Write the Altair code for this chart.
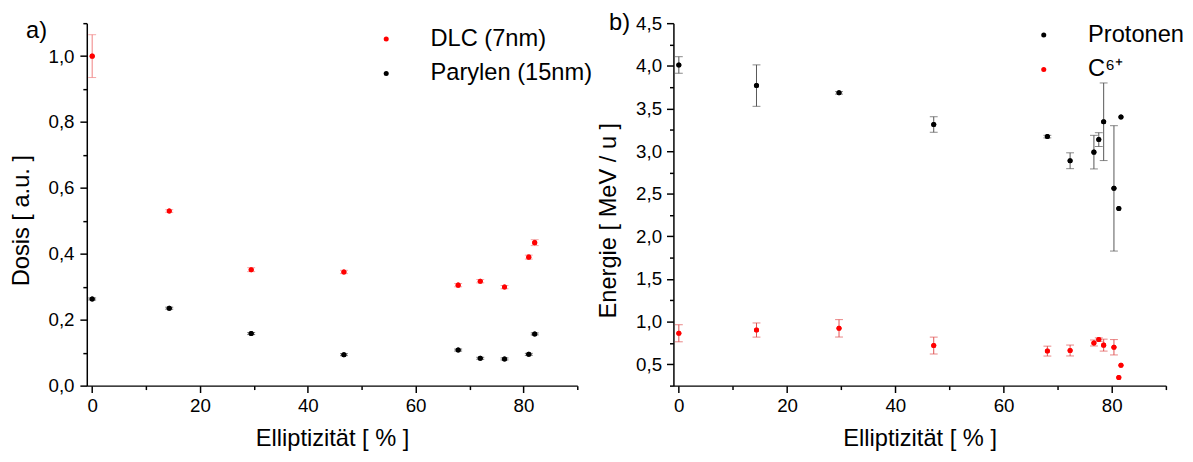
import altair as alt
import pandas as pd

FONT = "Liberation Sans"

# ---------- panel a) ----------
a_x = [0, 14.3, 29.5, 46.7, 67.9, 72.0, 76.5, 81.0, 82.1]
dlc_y = [1.0, 0.530, 0.352, 0.345, 0.305, 0.317, 0.299, 0.390, 0.434]
dlc_err = [0.065, 0.004, 0.006, 0.005, 0.005, 0.005, 0.005, 0.006, 0.009]
par_y = [0.263, 0.235, 0.158, 0.094, 0.108, 0.083, 0.081, 0.095, 0.157]
par_err = [0.003, 0.003, 0.003, 0.003, 0.003, 0.003, 0.003, 0.003, 0.003]
a_series = ["DLC (7nm)", "Parylen (15nm)"]

# ---------- panel b) ----------
b_x = [0, 14.35, 29.6, 47.1, 68.1, 72.3, 76.7, 77.6, 78.5, 80.4, 81.3, 81.7]
prot_y = [4.01, 3.768, 3.683, 3.312, 3.170, 2.887, 2.988, 3.135, 3.344, 2.563, 2.327, 3.401]
prot_err = [0.097, 0.243, 0.015, 0.091, 0.015, 0.093, 0.197, 0.081, 0.455, 0.735, 0.0, 0.0]
c_y = [0.864, 0.902, 0.922, 0.720, 0.655, 0.662, 0.750, 0.790, 0.725, 0.700, 0.346, 0.488]
c_err = [0.100, 0.083, 0.102, 0.099, 0.058, 0.064, 0.035, 0.020, 0.070, 0.090, 0.0, 0.0]
b_series = ["Protonen", "C\u2076\u207a"]

RED = "#ff0000"
BLACK = "#000000"


def frame(xs, ys, errs, name):
    return pd.DataFrame({"x": xs, "y": ys, "err": errs, "series": name})


dfa = pd.concat([frame(a_x, dlc_y, dlc_err, a_series[0]),
                 frame(a_x, par_y, par_err, a_series[1])], ignore_index=True)
dfb = pd.concat([frame(b_x, prot_y, prot_err, b_series[0]),
                 frame(b_x, c_y, c_err, b_series[1])], ignore_index=True)

x_ticks = list(range(0, 91, 10))
ya_ticks = [round(i * 0.1, 2) for i in range(0, 12)]
yb_ticks = [round(0.25 * i, 2) for i in range(1, 19)]


def cond(test, major, minor):
    return {"condition": {"test": test, "value": major}, "value": minor}


x_axis = alt.Axis(values=x_ticks, title="Elliptizität [ % ]",
                  labelExpr="datum.value % 20 === 0 ? datum.label : ''",
                  tickSize=cond("datum.value % 20 === 0", 7, 4),
                  labelPadding=4, titlePadding=12)

ya_axis = alt.Axis(values=ya_ticks, title="Dosis [ a.u. ]",
                   labelExpr="round(datum.value*10) % 2 === 0 ? replace(format(datum.value, '.1f'), '.', ',') : ''",
                   tickSize=cond("round(datum.value*10) % 2 === 0", 7, 4),
                   labelPadding=6, titleX=-54, titleY=200)

yb_axis = alt.Axis(values=yb_ticks, title="Energie [ MeV / u ]",
                   labelExpr="round(datum.value*4) % 2 === 0 ? replace(format(datum.value, '.1f'), '.', ',') : ''",
                   tickSize=cond("round(datum.value*4) % 2 === 0", 7, 4),
                   labelPadding=5, titleX=-54, titleY=200)


def panel(df, series, colors, errcolors, ydom, yaxis, legx, legy, label, labx, laby, width):
    xs = alt.Scale(domain=[-1, 90], nice=False, zero=False)
    ysc = alt.Scale(domain=ydom, nice=False, zero=False)
    X = alt.X("x:Q", scale=xs, axis=x_axis)
    pts = alt.Chart(df).mark_point(filled=True, size=26, opacity=1, shape="circle").encode(
        x=X,
        y=alt.Y("y:Q", scale=ysc, axis=yaxis),
        color=alt.Color("series:N", scale=alt.Scale(domain=series, range=colors),
                        sort=series,
                        legend=alt.Legend(orient="none", legendX=legx, legendY=legy, title=None,
                                          labelFontSize=24, labelFont=FONT, labelLimit=0,
                                          symbolType="circle", symbolSize=26, symbolStrokeWidth=0,
                                          labelOffset=33, rowPadding=11, padding=0)))
    layers = [pts]
    for s, ec in zip(series, errcolors):
        base = alt.Chart(df).transform_filter(
            (alt.datum.series == s) & (alt.datum.err > 0)
        ).transform_calculate(lo="datum.y - datum.err", hi="datum.y + datum.err")
        layers.append(base.mark_rule(strokeWidth=1).encode(
            x=X,
            y=alt.Y("lo:Q", scale=ysc, axis=yaxis), y2="hi:Q",
            color=alt.value(ec)))
        for f in ["lo", "hi"]:
            layers.append(base.mark_tick(orient="horizontal", size=8, thickness=1).encode(
                x=X,
                y=alt.Y(f + ":Q", scale=ysc, axis=yaxis),
                color=alt.value(ec)))
    layers.append(pts)
    txt = alt.Chart(pd.DataFrame({"t": [label]})).mark_text(
        font=FONT, fontSize=24, align="left", baseline="middle", color="black"
    ).encode(x=alt.value(labx), y=alt.value(laby), text="t:N")
    layers.append(txt)
    return alt.layer(*layers).properties(width=width, height=368)


left = panel(dfa, a_series, [RED, BLACK], ["#f08080", "#303030"], [0, 1.1], ya_axis,
             292, 4, "a)", -61.6, 8, 498)
right = panel(dfb, b_series, [BLACK, RED], ["#555555", "#e05050"], [0.25, 4.5], yb_axis,
              364, 0, "b)", -65.3, 0, 500)

chart = alt.hconcat(left, right, spacing=97.6, bounds="flush").resolve_scale(
    color="independent", x="independent", y="independent"
).resolve_legend(color="independent").properties(
    padding={"left": 2, "top": 0, "right": 0, "bottom": 0}
).configure_view(stroke=None).configure_axis(
    grid=False, domainColor="black", domainWidth=1.5, tickColor="black", tickWidth=1.5,
    labelFont=FONT, labelFontSize=19, labelColor="black",
    titleFont=FONT, titleFontSize=24, titleFontWeight="normal", titleColor="black"
)

chart.save("out.html", embed_options={"renderer": "svg", "actions": False})
